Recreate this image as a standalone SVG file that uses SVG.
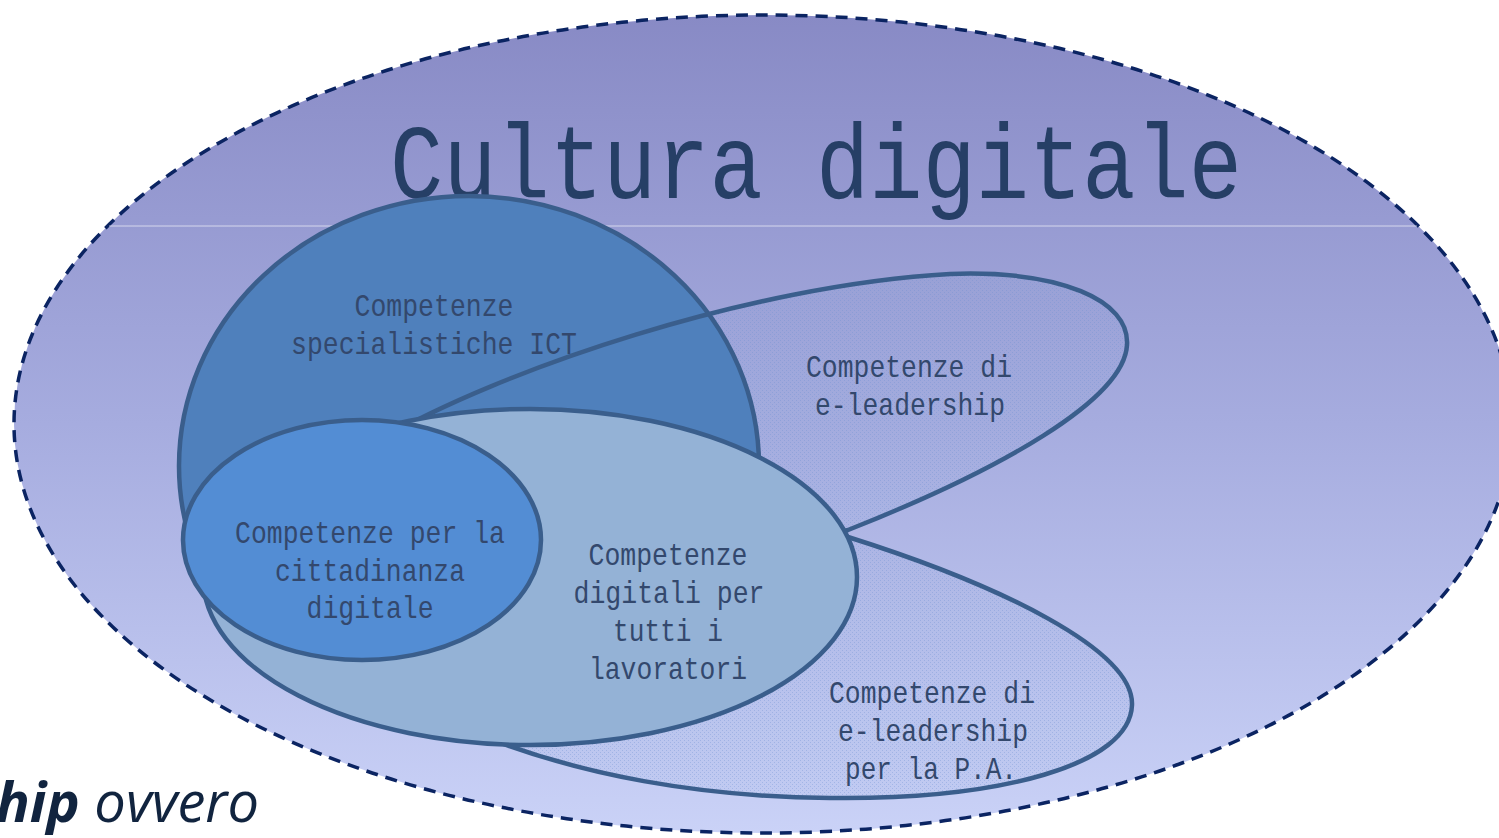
<svg xmlns="http://www.w3.org/2000/svg" width="1499" height="838" viewBox="0 0 1499 838">
<defs>
<linearGradient id="bg" gradientUnits="userSpaceOnUse" x1="0" y1="15" x2="0" y2="833">
<stop offset="0" stop-color="#888ac5"/>
<stop offset="0.5" stop-color="#a6acdf"/>
<stop offset="1" stop-color="#cad2f7"/>
</linearGradient>
<pattern id="dots" width="4" height="4" patternUnits="userSpaceOnUse">
<rect width="4" height="4" fill="#8fa6da" fill-opacity="0.1"/>
<rect x="0" y="0" width="1" height="1" fill="#6d8fd0" fill-opacity="0.35"/>
<rect x="2" y="2" width="1" height="1" fill="#6d8fd0" fill-opacity="0.35"/>
</pattern>
<style>
.edge{stroke:#3a5e8c;stroke-width:4.5;}
.lbl{font-family:"Liberation Mono",monospace;font-size:32px;fill:#33486d;text-anchor:middle;}
.title{font-family:"Liberation Mono",monospace;font-size:106px;fill:#263f66;}
</style>
</defs>
<rect width="1499" height="838" fill="#ffffff"/>
<g id="cultura">
<ellipse cx="763" cy="424" rx="749" ry="409" fill="url(#bg)" stroke="#0b2462" stroke-width="3.5" stroke-dasharray="12 8"/>
<line x1="109" y1="226" x2="1417" y2="226" stroke="#ffffff" stroke-opacity="0.6" stroke-width="1"/>
<text class="title" x="390" y="198" textLength="852" lengthAdjust="spacingAndGlyphs">Cultura digitale</text>
</g>
<g id="eleader-fill">
<path d="M380,440 C500,370 750,285 950,274 C1060,270 1130,300 1127,345 C1124,400 1000,470 848,530 L600,600 L380,520 Z" fill="url(#dots)"/>
</g>
<g id="eleader-pa">
<path class="edge" d="M848,537 C1000,585 1134,650 1132,705 C1130,765 1000,800 830,798 C700,797 580,775 480,735 L600,650 Z" fill="url(#dots)"/>
</g>
<g id="ict">
<ellipse class="edge" cx="469" cy="466" rx="290" ry="270" fill="#4f80bc"/>
</g>
<g id="eleader">
<path class="edge" d="M380,440 C500,370 750,285 950,274 C1060,270 1130,300 1127,345 C1124,400 1000,470 848,530 L600,600 L380,520 Z" fill="none"/>
</g>
<g id="lavoratori">
<ellipse class="edge" cx="530" cy="577" rx="327" ry="168" fill="#94b2d6"/>
</g>
<g id="cittadinanza">
<ellipse class="edge" cx="362" cy="540" rx="179" ry="120" fill="#538dd4"/>
</g>
<g id="labels">
<text class="lbl" x="434" y="316" textLength="159" lengthAdjust="spacingAndGlyphs">Competenze</text>
<text class="lbl" x="434" y="354" textLength="286" lengthAdjust="spacingAndGlyphs">specialistiche ICT</text>
<text class="lbl" x="909" y="377" textLength="206" lengthAdjust="spacingAndGlyphs">Competenze di</text>
<text class="lbl" x="910" y="415" textLength="190" lengthAdjust="spacingAndGlyphs">e-leadership</text>
<text class="lbl" x="370" y="543" textLength="270" lengthAdjust="spacingAndGlyphs">Competenze per la</text>
<text class="lbl" x="370" y="581" textLength="190" lengthAdjust="spacingAndGlyphs">cittadinanza</text>
<text class="lbl" x="370" y="618" textLength="127" lengthAdjust="spacingAndGlyphs">digitale</text>
<text class="lbl" x="668" y="565" textLength="159" lengthAdjust="spacingAndGlyphs">Competenze</text>
<text class="lbl" x="669" y="603" textLength="191" lengthAdjust="spacingAndGlyphs">digitali per</text>
<text class="lbl" x="668" y="641" textLength="110" lengthAdjust="spacingAndGlyphs">tutti i</text>
<text class="lbl" x="668" y="679" textLength="158" lengthAdjust="spacingAndGlyphs">lavoratori</text>
<text class="lbl" x="932" y="703" textLength="206" lengthAdjust="spacingAndGlyphs">Competenze di</text>
<text class="lbl" x="933" y="741" textLength="190" lengthAdjust="spacingAndGlyphs">e-leadership</text>
<text class="lbl" x="931" y="779" textLength="172" lengthAdjust="spacingAndGlyphs">per la P.A.</text>
</g>
<g id="caption">
<text x="259" y="822" text-anchor="end" font-family="'Open Sans',sans-serif" font-style="italic" font-size="56" fill="#11243f"><tspan font-weight="bold">hip</tspan> ovvero</text>
</g>
</svg>
